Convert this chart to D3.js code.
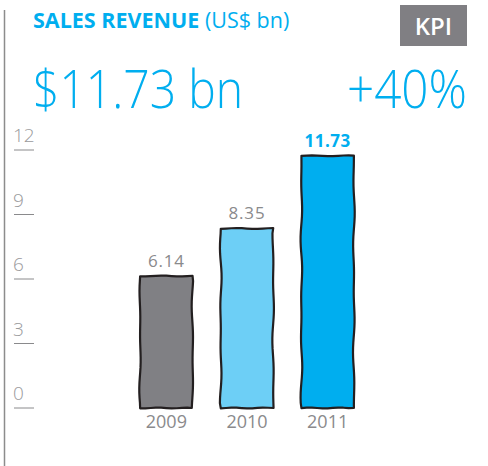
<!DOCTYPE html>
<html>
<head>
<meta charset="utf-8">
<script src="https://cdn.jsdelivr.net/npm/d3@7"></script>
<style>
  body { margin: 0; background: #fff; }
  text { font-family: "Open Sans", sans-serif; }
</style>
</head>
<body>
<div id="chart"></div>
<script>
var width = 488;
var height = 466;

// data
var years = ['2009', '2010', '2011'];
var revenue = [6.14, 8.35, 11.73];
var yTicks = [0, 3, 6, 9, 12];
var barColours = ['#808084', '#6dcff6', '#00aeef'];

var blue = '#00aeef';
var grey = '#8a8a8c';

var svg = d3.select('#chart').append('svg').attr('width', width).attr('height', height);

// left rule
svg.append('line').attr('x1', 4.5).attr('y1', 10).attr('x2', 4.5).attr('y2', 466)
    .attr('stroke', '#8c8c8c').attr('stroke-width', 1.5);

// header
var title = svg.append('text').attr('x', 33).attr('y', 28)
    .attr('fill', blue).attr('font-size', 21.5);
title.append('tspan').attr('font-weight', 700).text('SALES REVENUE');
title.append('tspan').attr('font-weight', 400).text(' (US$ bn)');

svg.append('rect').attr('x', 400).attr('y', 5).attr('width', 67).attr('height', 41)
    .attr('fill', '#807f83');
svg.append('text').attr('x', 433.5).attr('y', 35).attr('text-anchor', 'middle')
    .attr('fill', '#fff').attr('font-size', 24).attr('font-weight', 600).text('KPI');

svg.append('text').attr('x', 33).attr('y', 108)
    .attr('fill', blue).attr('font-size', 54).attr('font-weight', 300)
    .attr('textLength', 210).attr('lengthAdjust', 'spacingAndGlyphs')
    .text('$' + revenue[2].toFixed(2) + ' bn');
svg.append('text').attr('x', 347).attr('y', 108)
    .attr('fill', blue).attr('font-size', 54).attr('font-weight', 300)
    .attr('textLength', 120).attr('lengthAdjust', 'spacingAndGlyphs')
    .text('+' + Math.round((revenue[2] / revenue[1] - 1) * 100) + '%');

// scales
var y = d3.scaleLinear().domain([0, 12]).range([408, 150]);
var x = d3.scaleBand().domain(years).range([124, 370]).paddingInner(0.35).paddingOuter(0.2);

// y axis: underlined numbers
var tickG = svg.append('g').attr('class', 'y_ticks');
var ticks = tickG.selectAll('g').data(yTicks).enter().append('g');
ticks.append('line')
    .attr('x1', 14).attr('x2', 34)
    .attr('y1', function(d){ return y(d); })
    .attr('y2', function(d){ return y(d); })
    .attr('stroke', grey).attr('stroke-width', 1);
ticks.append('text')
    .attr('x', 13)
    .attr('y', function(d){ return y(d) - 8; })
    .attr('fill', '#9a9a9c').attr('font-size', 19).attr('font-weight', 300)
    .text(function(d){ return d; });

// hand drawn looking rectangle: sharp corners, slight wobble along the edges
function sketchRect(x0, y0, w, h, seed){
    var pts = [];
    var n = Math.max(8, Math.round(h / 5));
    var m = 10;
    var i;
    for(i = 0; i <= m; i++) pts.push([x0 + w * i / m, y0 + 0.4 * Math.sin(seed + i * 0.9)]);
    for(i = 1; i <= n; i++) pts.push([x0 + w + 0.9 * Math.sin(seed * 2 + i * 0.45) * Math.sin(i * 0.13 + seed), y0 + h * i / n]);
    for(i = m - 1; i >= 0; i--) pts.push([x0 + w * i / m, y0 + h + 0.4 * Math.sin(seed + i * 1.1)]);
    for(i = n - 1; i >= 1; i--) pts.push([x0 + 0.9 * Math.sin(seed * 3 + i * 0.5) * Math.sin(i * 0.11 + seed * 2), y0 + h * i / n]);
    return d3.line()(pts) + 'Z';
}

var bars = svg.append('g').attr('class', 'bars');
bars.selectAll('path').data(revenue).enter().append('path')
    .attr('d', function(d, i){
        return sketchRect(x(years[i]), y(d), x.bandwidth(), y(0) - y(d), i + 1);
    })
    .attr('fill', function(d, i){ return barColours[i]; })
    .attr('stroke', '#231f20').attr('stroke-width', 2.2).attr('stroke-linejoin', 'round');

// value labels
svg.append('g').selectAll('text').data(revenue).enter().append('text')
    .attr('x', function(d, i){ return x(years[i]) + x.bandwidth() / 2; })
    .attr('y', function(d){ return y(d) - 9; })
    .attr('text-anchor', 'middle')
    .attr('font-size', 17)
    .attr('font-weight', function(d, i){ return i === 2 ? 700 : 400; })
    .attr('fill', function(d, i){ return i === 2 ? blue : grey; })
    .attr('letter-spacing', function(d, i){ return i === 2 ? 0.5 : 0.8; })
    .text(function(d){ return d.toFixed(2); });

// year labels
svg.append('g').selectAll('text').data(years).enter().append('text')
    .attr('x', function(d){ return x(d) + x.bandwidth() / 2; })
    .attr('y', 428)
    .attr('text-anchor', 'middle')
    .attr('font-size', 18)
    .attr('fill', grey)
    .text(function(d){ return d; });
</script>
</body>
</html>
